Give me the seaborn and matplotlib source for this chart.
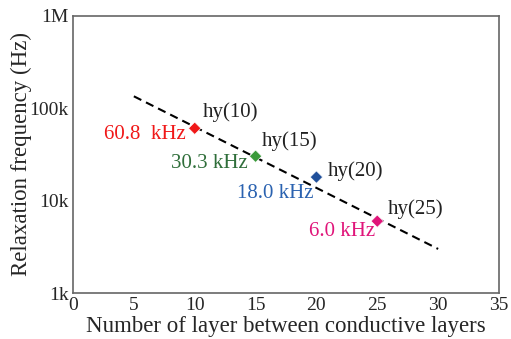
import matplotlib
matplotlib.use("Agg")
import matplotlib.pyplot as plt
import seaborn as sns
import pandas as pd
from matplotlib.ticker import FixedLocator, NullLocator

sns.set_theme(style="white")
plt.rcParams['font.family'] = ['Liberation Serif', 'DejaVu Serif']
plt.rcParams['mathtext.fontset'] = 'stix'

layers = [10, 15, 20, 25]
freq = [60800, 30300, 18000, 6000]
names = ["hy(10)", "hy(15)", "hy(20)", "hy(25)"]
freq_labels = ["60.8  kHz", "30.3 kHz", "18.0 kHz", "6.0 kHz"]
marker_colors = ["#f01818", "#3a9a3a", "#1f4f9a", "#e0157a"]
text_colors = ["#f01818", "#2f6e3a", "#2a62b0", "#e0157a"]
fit_x = [5, 30]
fit_y = [135000, 3000]
xticks = [0, 5, 10, 15, 20, 25, 30, 35]
yticks = [1e3, 1e4, 1e5, 1e6]
ytick_labels = ["1k", "10k", "100k", "1M"]

df = pd.DataFrame({"layers": layers, "freq": freq, "name": names})
fit = pd.DataFrame({"x": fit_x, "y": fit_y})

fig = plt.figure(figsize=(5.11, 3.39), dpi=100)
ax = fig.add_axes([73/511, 1-293/339, (499-73)/511, (293-16)/339])

sns.lineplot(data=fit, x="x", y="y", ax=ax, color="black", linestyle=(0, (4, 2.5)), linewidth=1.5)
sns.scatterplot(data=df, x="layers", y="freq", hue="name", palette=marker_colors,
                marker="D", s=40, edgecolor="white", linewidth=0.5, ax=ax, legend=False, zorder=3)

ax.set_yscale("log")
ax.set_xlim(0, 35)
ax.set_ylim(1e3, 1e6)
ax.xaxis.set_major_locator(FixedLocator(xticks))
ax.yaxis.set_major_locator(FixedLocator(yticks))
ax.yaxis.set_minor_locator(NullLocator())
ax.set_yticklabels(ytick_labels)
ax.tick_params(axis="x", direction="in", length=3, width=0.8, labelsize=14, pad=3, color="#555555")
ax.tick_params(axis="y", direction="out", length=3, width=0.8, labelsize=14, pad=0, color="#555555")
for s in ax.spines.values():
    s.set_color("#666666")
    s.set_linewidth(1.2)

ax.set_xlabel("Number of layer between conductive layers", fontsize=16.5, labelpad=1)
ax.set_ylabel("Relaxation frequency (Hz)", fontsize=16.5, labelpad=-2)

name_off = [(8, 16), (6, 15), (11, 6), (11, 12)]
freq_off = [(-9, -6), (-8, -7), (-3, -16), (-2, -10)]
for i in range(len(layers)):
    ax.annotate(names[i], (layers[i], freq[i]), xytext=name_off[i], textcoords="offset pixels",
                ha="left", va="center", fontsize=15, color="#222222")
    ax.annotate(freq_labels[i], (layers[i], freq[i]), xytext=freq_off[i], textcoords="offset pixels",
                ha="right", va="center", fontsize=15, color=text_colors[i])

fig.savefig("out.png", dpi=100)
